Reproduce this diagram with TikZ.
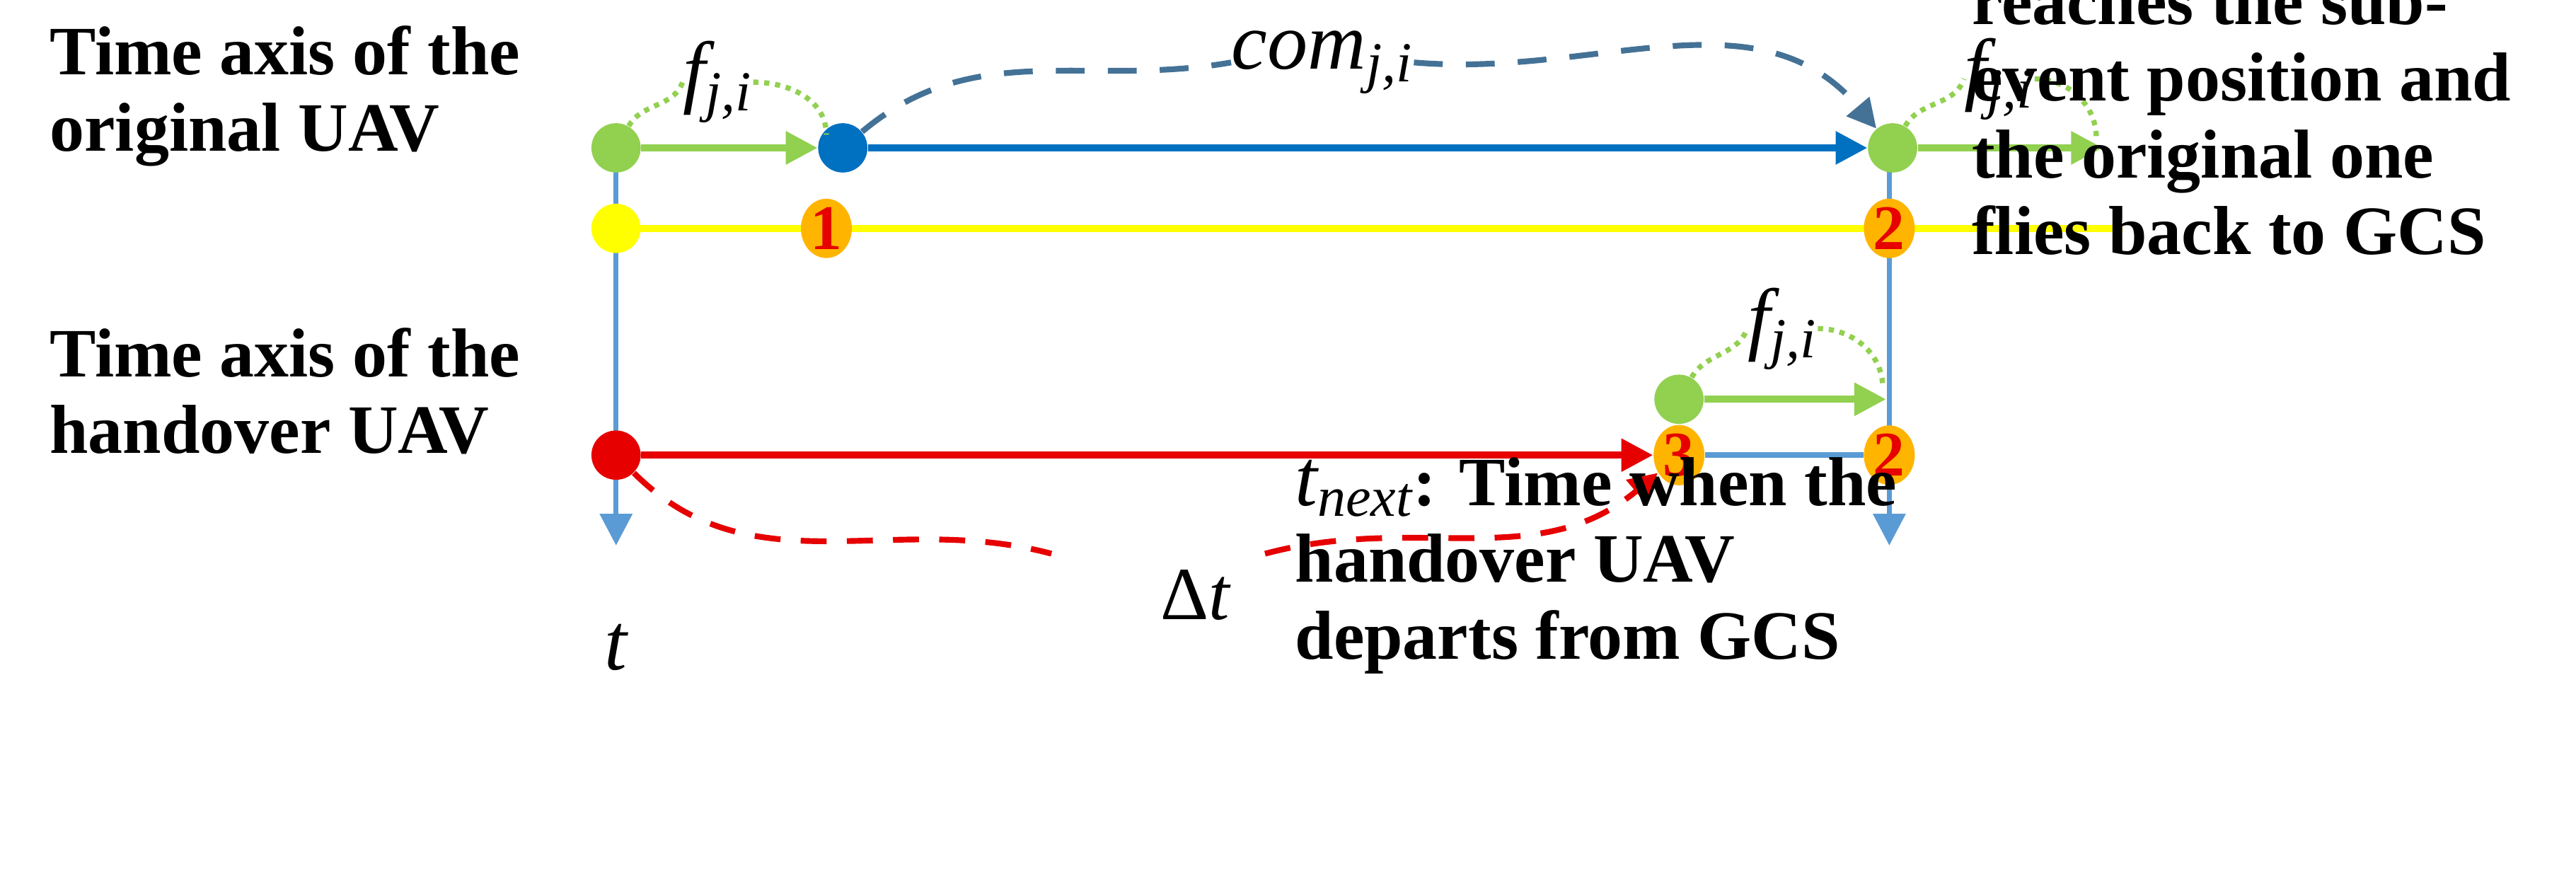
\documentclass[tikz,border=0pt]{standalone}
\usepackage{fontspec}
\setmainfont{Liberation Serif}
\usetikzlibrary{arrows.meta,shapes.geometric}
\definecolor{gr}{RGB}{146,208,80}
\definecolor{bl}{RGB}{0,112,192}
\definecolor{lb}{RGB}{91,155,213}
\definecolor{yl}{RGB}{255,255,0}
\definecolor{og}{RGB}{255,180,0}
\definecolor{rd}{RGB}{230,0,0}
\definecolor{db}{RGB}{68,114,150}
\begin{document}
\begin{tikzpicture}[x=0.02cm,y=-0.02cm,
  dot/.style={circle,fill=#1,minimum size=0.6cm,inner sep=0pt},
  num/.style={ellipse,fill=og,minimum width=0.62cm,minimum height=0.68cm,inner sep=0pt,text=rd,font=\fontsize{22}{22}\selectfont\bfseries},
  ln/.style={line width=2.4pt,draw=#1},
  arr/.style={ln=#1,-{Triangle[length=11pt,width=11pt]}},
  lbl/.style={font=\fontsize{24}{26.6}\selectfont\bfseries,align=left,anchor=base west,inner sep=0pt},
  mth/.style={font=\fontsize{28}{28}\selectfont\itshape,inner sep=0pt}]
\useasboundingbox (0,0) rectangle (1568,533);
% vertical axes
\coordinate (lt) at (375,332);
\coordinate (rt) at (1150,332);
\draw[arr=lb,line width=1.8pt] (375,90) -- (lt);
\draw[arr=lb,line width=1.8pt] (1150,90) -- (rt);
% yellow line
\coordinate (ye) at (1292,139);
\draw[ln=yl] (375,139) -- (ye);
\node[dot=yl] (y0) at (375,139) {};
\node[num] (n1) at (503,139) {1};
\node[num] (n2) at (1150,139) {2};
% top axis
\node[dot=gr] (g1) at (375,90) {};
\node[dot=bl] (b1) at (513,90) {};
\node[dot=gr] (g2) at (1152,90) {};
\coordinate (ge) at (1280,90);
\draw[arr=gr] (g1) -- (b1);
\draw[arr=bl] (b1) -- (g2);
\draw[arr=gr] (g2) -- (ge);
% lower axis
\node[dot=rd] (r1) at (375,277) {};
\node[num] (n3) at (1022,277) {3};
\node[num] (n4) at (1150,277) {2};
\node[dot=gr] (g3) at (1022,243) {};
\coordinate (ge3) at (1148,243);
\draw[ln=lb,line width=2pt] (n3) -- (n4);
\draw[arr=rd] (r1) -- (n3);
\draw[arr=gr] (g3) -- (ge3);
% f labels and dotted arcs
\node[mth] (f1) at (437,50) {f\textsubscript{j,i}};
\node[mth] (f2) at (1217,48) {f\textsubscript{j,i}};
\node[mth] (f3) at (1085,200) {f\textsubscript{j,i}};
\node[mth] (com) at (805,38) {com\textsubscript{j,i}};
\tikzset{dtt/.style={gr,line width=1.8pt,dotted}}
\draw[dtt] (g1) to[out=60,in=-110] (f1.west);
\draw[dtt] (f1.east) to[out=0,in=90] (503,82);
\draw[dtt] (g2) to[out=60,in=-110] (f2.west);
\draw[dtt] (f2.east) to[out=0,in=90] (1276,84);
\draw[dtt] (g3) to[out=60,in=-110] (f3.west);
\draw[dtt] (f3.east) to[out=0,in=90] (1146,236);
% com dashed
\draw[db,line width=2pt,dash pattern=on 10pt off 8pt] (b1) to[out=40,in=190] (com.west);
\draw[db,line width=2pt,dash pattern=on 10pt off 8pt,-{Triangle[length=10pt,width=10pt]}] (com.east) to[out=-5,in=130] (g2);
% delta t
\node[mth,font=\fontsize{26}{26}\selectfont] (dt) at (728,362) {Δ\textit{t}};
\coordinate (d1) at (640,337);
\coordinate (d2) at (770,337);
\draw[rd,line width=2pt,dash pattern=on 9pt off 7pt] (r1) to[out=-45,in=165] (d1);
\draw[rd,line width=2pt,dash pattern=on 9pt off 7pt,-{Triangle[length=10pt,width=10pt]}] (d2) to[out=15,in=220] (n3);
\node[mth] (t) at (375,394) {t};
% texts
\node[lbl] (L1) at (30,92) {Time axis of the\\original UAV};
\node[lbl] (L2) at (30,276) {Time axis of the\\handover UAV};
\node[lbl] (L3) at (788,401) {{\mdseries\itshape\fontsize{28}{28}\selectfont t\textsubscript{next}}: Time when the\\handover UAV\\departs from GCS};
\node[lbl] (L4) at (1200,155) {2: Time when the\\handover UAV\\reaches the sub-\\event position and\\the original one\\flies back to GCS};
\end{tikzpicture}
\end{document}
